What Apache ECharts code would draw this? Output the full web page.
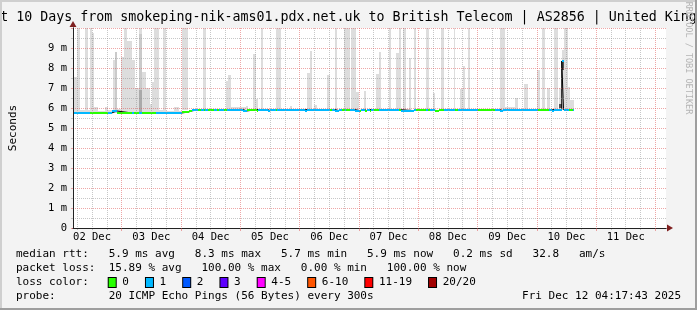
<!DOCTYPE html>
<html><head><meta charset="utf-8">
<script src="https://cdn.jsdelivr.net/npm/echarts@6/dist/echarts.min.js"></script>
<style>html,body{margin:0;padding:0;background:#f3f3f3}#c{width:697px;height:310px}</style>
</head><body><div id="c"></div>
<script>
// ---------------- data (x = hours since 2025-12-02 00:00) ----------------
const xStart = 4.2953;            // Tue Dec 02 04:17:43
const xEnd = 244.2953;            // Fri Dec 12 04:17:43
const dayStarts = [24, 48, 72, 96, 120, 144, 168, 192, 216, 240];
const dayLabelHours = [12, 36, 60, 84, 108, 132, 156, 180, 204, 228];
const dayLabels = ['02 Dec', '03 Dec', '04 Dec', '05 Dec', '06 Dec', '07 Dec', '08 Dec', '09 Dec', '10 Dec', '11 Dec'];
const yTicks = [0, 1, 2, 3, 4, 5, 6, 7, 8, 9, 10];   // ms

// smoke: [from h, to h, low ms, high ms]
const smoke = [
  [4.70, 5.90, 5.75, 7.57], [5.90, 6.98, 5.75, 10], [6.98, 9.10, 5.75, 5.9], [9.10, 10.30, 5.75, 10],
  [10.30, 11.22, 5.75, 5.9], [11.22, 12.02, 5.75, 10], [12.02, 12.98, 5.75, 9.75], [12.98, 14.30, 5.75, 6.05],
  [14.30, 17.38, 5.75, 5.85], [17.38, 18.30, 5.75, 6.05], [18.30, 20.30, 5.75, 5.9], [20.30, 21.22, 5.75, 8.42],
  [21.22, 22.30, 5.75, 8.8], [22.30, 23.90, 5.75, 5.95], [23.90, 24.82, 5.75, 8.57], [24.82, 26.18, 5.75, 10],
  [26.18, 28.18, 5.75, 9.37], [28.18, 29.50, 5.75, 8.4], [29.50, 30.98, 5.75, 7.0], [30.98, 32.30, 5.75, 10],
  [32.30, 33.90, 5.75, 7.8], [33.90, 35.50, 5.75, 7.0], [35.50, 36.30, 5.75, 6.2], [36.30, 37.22, 5.75, 7.3],
  [37.22, 39.22, 5.75, 10], [39.22, 40.58, 5.75, 5.9], [40.58, 41.90, 5.75, 10], [41.90, 45.10, 5.75, 5.85],
  [45.10, 47.10, 5.75, 6.03], [47.10, 48.30, 5.75, 5.85],
  [48.30, 50.70, 5.9, 10], [56.98, 58.30, 5.9, 10], [66.02, 66.98, 5.9, 7.35], [66.98, 68.30, 5.9, 7.65],
  [68.30, 74.30, 5.9, 6.05], [74.30, 75.10, 5.9, 6.1], [77.10, 78.18, 5.9, 8.7], [78.18, 78.98, 5.9, 6.45],
  [80.30, 81.10, 5.9, 10], [86.30, 88.30, 5.9, 10], [92.30, 93.10, 5.9, 6.1], [98.98, 100.30, 5.9, 7.77],
  [100.30, 101.10, 5.9, 8.85], [101.90, 102.98, 5.9, 6.15], [106.98, 108.30, 5.9, 7.65], [110.18, 111.10, 5.9, 10],
  [113.90, 116.30, 5.9, 10], [116.98, 118.98, 5.9, 10], [118.98, 120.02, 5.9, 6.8], [122.18, 122.98, 5.9, 6.85],
  [126.98, 128.30, 5.9, 7.7], [128.30, 129.10, 5.9, 8.82], [132.02, 133.10, 5.9, 10], [134.98, 136.30, 5.9, 8.75],
  [136.30, 137.10, 5.9, 10], [137.90, 138.98, 5.9, 10], [140.30, 141.10, 5.9, 8.5], [142.30, 143.10, 5.9, 10],
  [147.10, 148.30, 5.9, 10], [150.02, 150.98, 5.9, 6.75], [153.10, 154.30, 5.9, 10], [158.30, 159.10, 5.9, 10],
  [160.98, 162.10, 5.9, 6.97], [162.10, 162.98, 5.9, 8.1], [164.30, 165.10, 5.9, 10], [177.22, 179.22, 5.9, 10],
  [179.22, 182.98, 5.9, 6.05], [182.98, 184.30, 5.9, 6.5], [186.98, 188.58, 5.9, 7.2], [192.10, 193.18, 5.9, 7.9],
  [194.30, 195.30, 5.9, 10], [196.30, 197.38, 5.9, 7.0], [199.10, 200.42, 5.9, 10], [201.10, 202.10, 5.9, 7.0],
  [202.10, 202.98, 5.9, 8.9], [202.98, 204.58, 5.9, 10], [204.58, 205.62, 5.9, 7.05], [205.62, 206.98, 5.9, 6.4]
];
// denser smoke: [from h, to h, low ms, high ms, ping-density level]
const smokeDense = [
  [21.22, 22.30, 5.75, 8.8, 1], [30.98, 32.30, 5.75, 9.7, 1], [30.98, 32.30, 5.75, 6.9, 2],
  [201.10, 202.10, 5.98, 6.2, 3], [202.10, 202.98, 7.9, 8.3, 3]
];
// median rtt: [from h, to h, ms, loss class]
const medianSegs = [
  [4.30, 11.10, 5.75, 1], [11.10, 18.30, 5.75, 0], [18.30, 19.90, 5.75, 1], [19.90, 22.10, 5.85, 1],
  [22.10, 28.30, 5.75, 0], [28.30, 29.10, 5.75, 1], [29.10, 31.10, 5.75, 0], [31.10, 32.30, 5.75, 1],
  [32.30, 37.90, 5.75, 0], [37.90, 48.30, 5.75, 1], [48.30, 51.10, 5.8, 0], [51.10, 52.30, 5.85, 0],
  [52.30, 54.98, 5.92, 1], [54.98, 56.30, 5.92, 0], [56.30, 57.22, 5.92, 1], [57.22, 57.90, 5.92, 0],
  [57.90, 58.98, 5.92, 1], [58.98, 61.22, 5.92, 0], [61.22, 62.58, 5.92, 1], [62.58, 63.50, 5.92, 0],
  [63.50, 65.22, 5.92, 1], [65.22, 66.58, 5.92, 0], [66.58, 73.22, 5.92, 1], [73.22, 74.58, 5.85, 1],
  [74.58, 78.58, 5.92, 0], [78.58, 79.10, 5.87, 0], [79.10, 83.10, 5.92, 1], [83.10, 84.18, 5.87, 1],
  [84.18, 86.30, 5.92, 1], [86.30, 86.98, 5.92, 0], [86.98, 98.30, 5.92, 1], [98.30, 98.98, 5.87, 1],
  [98.98, 108.30, 5.92, 1], [108.30, 109.10, 5.92, 0], [109.10, 110.30, 5.92, 1], [110.30, 112.02, 5.87, 1],
  [112.02, 112.98, 5.92, 1], [112.98, 114.30, 5.92, 0], [114.30, 114.98, 5.92, 1], [114.98, 116.30, 5.92, 0],
  [116.30, 118.30, 5.92, 1], [118.30, 120.30, 5.87, 1], [120.30, 120.98, 5.87, 0], [120.98, 122.30, 5.92, 1],
  [122.30, 123.22, 5.87, 0], [123.22, 124.30, 5.92, 1], [124.30, 125.10, 5.87, 0], [125.10, 126.30, 5.92, 1],
  [126.30, 128.30, 5.92, 0], [128.30, 136.30, 5.92, 1], [136.30, 137.10, 5.92, 0], [137.10, 142.30, 5.87, 1],
  [142.30, 143.22, 5.92, 1], [143.22, 146.98, 5.92, 0], [146.98, 148.02, 5.92, 1], [148.02, 148.98, 5.92, 0],
  [148.98, 150.98, 5.88, 1], [150.98, 152.30, 5.87, 0], [152.30, 154.30, 5.92, 0], [154.30, 158.98, 5.92, 1],
  [158.98, 160.30, 5.92, 0], [160.30, 168.30, 5.92, 1], [168.30, 174.98, 5.92, 0], [174.98, 176.98, 5.92, 1],
  [176.98, 178.30, 5.87, 1], [178.30, 192.30, 5.92, 1], [192.30, 196.98, 5.92, 0], [196.98, 198.30, 5.92, 1],
  [198.30, 198.98, 5.87, 1], [198.98, 202.10, 5.92, 1], [202.10, 202.82, 8.35, 1], [202.82, 204.98, 5.92, 1],
  [204.98, 206.58, 5.92, 0], [206.58, 206.98, 5.92, 1]
];
const rttStats = [['5.9', 'ms avg'], ['8.3', 'ms max'], ['5.7', 'ms min'], ['5.9', 'ms now'], ['0.2', 'ms sd']];
const rttAms = ['32.8', 'am/s'];
const lossStats = [['15.89', '% avg'], ['100.00', '% max'], ['0.00', '% min'], ['100.00', '% now']];
const lossLabels = ['0', '1', '2', '3', '4-5', '6-10', '11-19', '20/20'];
const probeText = '20 ICMP Echo Pings (56 Bytes) every 300s';
const stampText = 'Fri Dec 12 04:17:43 2025';
const titleText = 'Last 10 Days from smokeping-nik-ams01.pdx.net.uk to British Telecom | AS2856 | United Kingdom';

// ---------------- styles ----------------
const lossColors = ['#26ff00', '#00b8ff', '#0059ff', '#5e00ff', '#ff00ff', '#ff5500', '#ff0000', '#a10000'];
const denseShades = ['#dddddd', '#cacaca', '#aaaaaa', '#555555'];
const MONO = '"DejaVu Sans Mono", monospace';
const GRID_MINOR = 'rgba(143,143,143,0.5)';
const GRID_MAJOR = 'rgba(222,80,80,0.5)';
const minorHours = [];
dayStarts.forEach(d => { [18, 12, 6].forEach(o => { if (d - o > xStart) minorHours.push(d - o); }); });
minorHours.push(dayStarts[dayStarts.length - 1] + 6);

const chart = echarts.init(document.getElementById('c'), null, {renderer: 'canvas'});

function rectItem(api, h0, h1, lo, hi) {
  const a = api.coord([h0, hi]);
  const b = api.coord([h1, lo]);
  const x0 = Math.round(a[0]), x1 = Math.round(b[0]);
  const y0 = Math.round(a[1]), y1 = Math.round(b[1]);
  return {x: x0, y: y0, width: Math.max(1, x1 - x0), height: Math.max(1, y1 - y0)};
}

// legend line texts
const col = (s, n) => s + ' '.repeat(Math.max(0, n - s.length));
const line1 = col('median rtt:', 14) + rttStats.map(s => s[0] + ' ' + s[1]).join('   ') + '   ' + rttAms.join('   ');
const line2 = col('packet loss:', 14) + lossStats.map(s => s[0] + ' ' + s[1]).join('   ');
const rich = {g: {width: 17, font: '11px ' + MONO}};
let line3 = col('loss color:', 14);
lossLabels.forEach((l, i) => {
  rich['b' + i] = {width: 7, height: 9, backgroundColor: lossColors[i], borderColor: '#000', borderWidth: 1};
  line3 += '{b' + i + '| }' + ' ' + l + (i < lossLabels.length - 1 ? '{g| }' : '');
});
const line4 = col('probe:', 14) + probeText;

const txt = (text, x, y, extra) => ({
  type: 'text', x: x, y: y, silent: true, z: 20,
  style: Object.assign({text: text, fill: '#000', font: '11px ' + MONO, verticalAlign: 'middle', align: 'left'}, extra || {})
});

const arrowLine = {show: true, symbol: ['none', 'triangle'], symbolSize: [7, 6], symbolOffset: [0, 4], lineStyle: {color: '#7f1f1f', width: 1}};

chart.setOption({
  animation: false,
  backgroundColor: '#f3f3f3',
  grid: {left: 66, top: 28, width: 600, height: 200, show: true, backgroundColor: '#ffffff', borderWidth: 0},
  xAxis: [
    { // minor grid + day labels
      type: 'value', position: 'bottom', min: xStart, max: xEnd, z: 5,
      axisLine: {show: false},
      axisTick: {show: true, customValues: minorHours, length: 2, lineStyle: {color: GRID_MINOR}},
      axisLabel: {show: true, customValues: dayLabelHours, margin: 4, color: '#000', fontFamily: MONO, fontSize: 10.5,
        formatter: v => dayLabels[dayLabelHours.indexOf(Math.round(v))] || ''},
      splitLine: {show: true, lineStyle: {color: GRID_MINOR, type: [1, 1], width: 1}}
    },
    { // major grid (day boundaries)
      type: 'value', position: 'bottom', min: xStart, max: xEnd, z: 6,
      axisLine: {show: true, lineStyle: {color: '#222', width: 1}},
      axisTick: {show: true, customValues: dayStarts, length: 3, lineStyle: {color: GRID_MAJOR}},
      axisLabel: {show: false},
      splitLine: {show: true, lineStyle: {color: GRID_MAJOR, type: [1, 1], width: 1}}
    },
    { // arrow
      type: 'value', position: 'bottom', min: xStart, max: xEnd, z: 1,
      axisLine: arrowLine, axisTick: {show: false}, axisLabel: {show: false}, splitLine: {show: false}
    }
  ],
  yAxis: [
    {
      type: 'value', position: 'left', min: yTicks[0], max: yTicks[yTicks.length - 1], interval: 1, z: 6,
      axisLine: {show: true, lineStyle: {color: '#222', width: 1}},
      axisTick: {show: true, length: 2, lineStyle: {color: GRID_MAJOR}},
      minorTick: {show: true, splitNumber: 2, length: 2, lineStyle: {color: GRID_MINOR}},
      splitLine: {show: true, lineStyle: {color: GRID_MAJOR, type: [1, 1], width: 1}},
      minorSplitLine: {show: true, lineStyle: {color: GRID_MINOR, type: [1, 1], width: 1}},
      axisLabel: {margin: 6, color: '#000', fontFamily: MONO, fontSize: 10.5,
        formatter: v => v === 0 ? '0' : (v >= 10 ? '' : v + ' m')},
      name: 'Seconds', nameLocation: 'middle', nameGap: 54, nameRotate: 90,
      nameTextStyle: {color: '#000', fontFamily: MONO, fontSize: 11}
    },
    { // arrow
      type: 'value', position: 'left', min: yTicks[0], max: yTicks[yTicks.length - 1], z: 1,
      axisLine: arrowLine, axisTick: {show: false}, axisLabel: {show: false}, splitLine: {show: false}
    }
  ],
  series: [
    {
      type: 'custom', name: 'smoke', xAxisIndex: 0, yAxisIndex: 0, z: 2, silent: true, clip: true,
      data: smoke, encode: {x: [0, 1], y: [2, 3]},
      renderItem: (p, api) => ({type: 'rect', shape: rectItem(api, api.value(0), api.value(1), api.value(2), api.value(3)),
        style: {fill: denseShades[0]}})
    },
    {
      type: 'custom', name: 'dense smoke', xAxisIndex: 0, yAxisIndex: 0, z: 2, silent: true, clip: true,
      data: smokeDense, encode: {x: [0, 1], y: [2, 3]},
      renderItem: (p, api) => ({type: 'rect', shape: rectItem(api, api.value(0), api.value(1), api.value(2), api.value(3)),
        style: {fill: denseShades[api.value(4)]}})
    },
    {
      type: 'line', name: 'median step', xAxisIndex: 0, yAxisIndex: 0, z: 3, silent: true, symbol: 'none',
      data: medianSegs.flatMap(s => [[s[0], s[2]], [s[1], s[2]]]),
      lineStyle: {color: '#000', width: 1}
    },
    {
      type: 'custom', name: 'median rtt', xAxisIndex: 0, yAxisIndex: 0, z: 4, silent: true, clip: true,
      data: medianSegs, encode: {x: [0, 1], y: 2},
      renderItem: (p, api) => {
        const a = api.coord([api.value(0), api.value(2)]);
        const b = api.coord([api.value(1), api.value(2)]);
        const x0 = Math.round(a[0]), x1 = Math.round(b[0]);
        return {type: 'rect', shape: {x: x0, y: Math.round(a[1]) - 1, width: Math.max(1, x1 - x0), height: 2},
          style: {fill: lossColors[api.value(3)]}};
      }
    }
  ],
  graphic: [
    {type: 'rect', silent: true, z: 30, shape: {x: 0, y: 0, width: 697, height: 2}, style: {fill: '#cfcfcf'}},
    {type: 'rect', silent: true, z: 30, shape: {x: 0, y: 0, width: 2, height: 310}, style: {fill: '#cfcfcf'}},
    {type: 'rect', silent: true, z: 30, shape: {x: 695, y: 0, width: 2, height: 310}, style: {fill: '#9e9e9e'}},
    {type: 'rect', silent: true, z: 30, shape: {x: 0, y: 308, width: 697, height: 2}, style: {fill: '#9e9e9e'}},
    txt(titleText, 348.5, 17.5, {align: 'center', font: '13.3px ' + MONO}),
    {type: 'text', silent: true, z: 20, x: 688.5, y: 58, rotation: -Math.PI / 2,
      style: {text: 'RRDTOOL / TOBI OETIKER', fill: '#b4b4b4', font: '8.5px ' + MONO, align: 'center', verticalAlign: 'middle'}},
    txt(line1, 16, 254.5),
    txt(line2, 16, 268.5),
    {type: 'text', silent: true, z: 20, x: 16, y: 282.5,
      style: {text: line3, rich: rich, fill: '#000', font: '11px ' + MONO, verticalAlign: 'middle', align: 'left'}},
    txt(line4, 16, 296.5),
    txt(stampText, 681, 296.5, {align: 'right'})
  ]
});
</script></body></html>
